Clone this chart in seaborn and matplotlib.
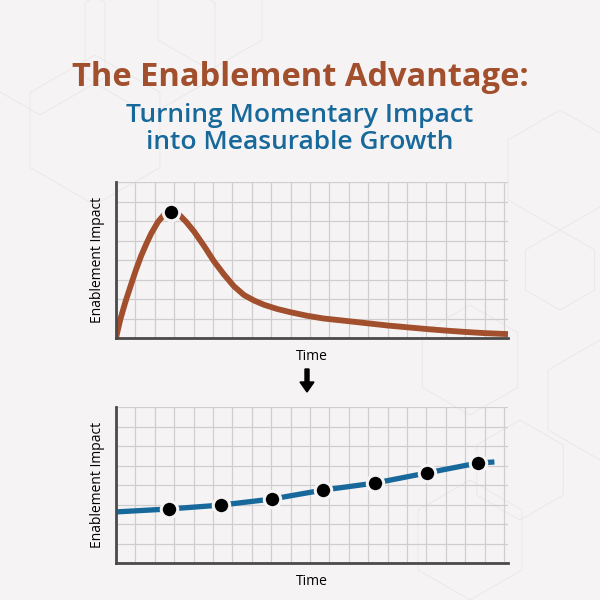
import numpy as np
import matplotlib
matplotlib.use("Agg")
import matplotlib.pyplot as plt
from matplotlib.patches import RegularPolygon, FancyArrow
import seaborn as sns

# --- datos (unidades = celdas de la grilla) ---
# curva superior: impacto momentaneo
spike_x = [0, 0.22, 0.5, 0.78, 1.03, 1.29, 1.55, 1.81, 2.16, 2.5, 2.84, 3.28, 3.62,
           4.03, 4.55, 5.05, 5.57, 6.08, 6.6, 7.12, 7.64, 8.3, 9.0, 9.85, 10.7,
           12.0, 13.0, 14.0, 15.0, 16.0, 17.0, 18.0, 19.0, 20.2]
spike_y = [0, 0.95, 1.9, 2.75, 3.5, 4.2, 4.8, 5.35, 5.95, 6.35, 6.45, 6.3, 5.95,
           5.45, 4.7, 3.93, 3.25, 2.65, 2.2, 1.92, 1.7, 1.49, 1.32, 1.14, 1.0,
           0.86, 0.75, 0.64, 0.55, 0.46, 0.38, 0.31, 0.25, 0.2]
peak_x = [2.84]
peak_y = [6.45]

# curva inferior: crecimiento medible
growth_x = [2.73, 5.41, 8.04, 10.67, 13.35, 16.03, 18.66]
growth_y = [2.77, 2.97, 3.28, 3.74, 4.10, 4.62, 5.13]
growth_start = (0.0, 2.62)
growth_end = (19.5, 5.18)

title = "The Enablement Advantage:"
subtitle = "Turning Momentary Impact\ninto Measurable Growth"
ylab = "Enablement Impact"
xlab = "Time"

bg = "#f5f3f3"
brown = "#a24f2d"
blue = "#17689b"
grid_c = "#cfcdcd"
spine_c = "#4a4a4a"

sns.set_theme(style="white")
plt.rcParams['font.family'] = ['Open Sans', 'DejaVu Sans']

fig = plt.figure(figsize=(6, 6), dpi=100, facecolor=bg)

# hexagonos decorativos del fondo (muy tenues)
hex_c = "#ebe8e8"
for cx, cy, r in [(40, 560, 75), (150, 560, 75), (95, 470, 75), (210, 590, 60),
                  (560, 330, 40), (520, 130, 50), (470, 60, 60), (600, 200, 60),
                  (560, 430, 60), (470, 240, 55)]:
    fig.patches.append(RegularPolygon((cx / 600, cy / 600), 6, radius=r / 600,
                                      orientation=0, fill=False, edgecolor=hex_c,
                                      lw=0.7, transform=fig.transFigure, zorder=-5))

fig.text(0.5, 1 - 77 / 600, title, ha='center', va='center', fontsize=23.5,
         fontweight='bold', color=brown)
fig.text(0.5, 1 - 129 / 600, subtitle, ha='center', va='center', fontsize=19,
         fontweight='semibold', color=blue, linespacing=1.15)


def style_axes(ax):
    ax.set_facecolor('none')
    ax.set_xlim(0, 20.2)
    ax.set_ylim(0, 8)
    ax.set_xticks(np.arange(0, 21))
    ax.set_yticks(np.arange(0, 9))
    ax.grid(True, color=grid_c, lw=0.9)
    ax.tick_params(length=0, labelbottom=False, labelleft=False)
    for s in ['top', 'right']:
        ax.spines[s].set_visible(False)
    for s in ['left', 'bottom']:
        ax.spines[s].set_color(spine_c)
        ax.spines[s].set_linewidth(2)
    ax.set_ylabel(ylab, fontsize=10, labelpad=8, color='black', fontweight='medium')
    ax.set_xlabel(xlab, fontsize=10, labelpad=8, color='black', fontweight='medium')


ax1 = fig.add_axes([116 / 600, 1 - 338 / 600, 392 / 600, 156 / 600])
style_axes(ax1)
sns.lineplot(x=spike_x, y=spike_y, ax=ax1, color=brown, lw=4.2, sort=False,
             solid_capstyle='butt', solid_joinstyle='round')
sns.scatterplot(x=peak_x, y=peak_y, ax=ax1, color='black', s=140,
                edgecolor=bg, linewidth=2.2, zorder=5)

ax2 = fig.add_axes([116 / 600, 1 - 563 / 600, 392 / 600, 156 / 600])
style_axes(ax2)
line_x = [growth_start[0]] + growth_x + [growth_end[0]]
line_y = [growth_start[1]] + growth_y + [growth_end[1]]
sns.lineplot(x=line_x, y=line_y, ax=ax2, color=blue, lw=3.8, sort=False,
             solid_capstyle='butt', solid_joinstyle='round')
sns.scatterplot(x=growth_x, y=growth_y, ax=ax2, color='black', s=140,
                edgecolor=bg, linewidth=2.2, zorder=5)

# flecha entre graficos
fig.patches.append(FancyArrow(
    307 / 600, 1 - 369 / 600, 0, -23 / 600, width=4 / 600, head_width=14 / 600,
    head_length=10 / 600, length_includes_head=True, color='black',
    transform=fig.transFigure))

fig.savefig('out.png', dpi=100, facecolor=bg)
